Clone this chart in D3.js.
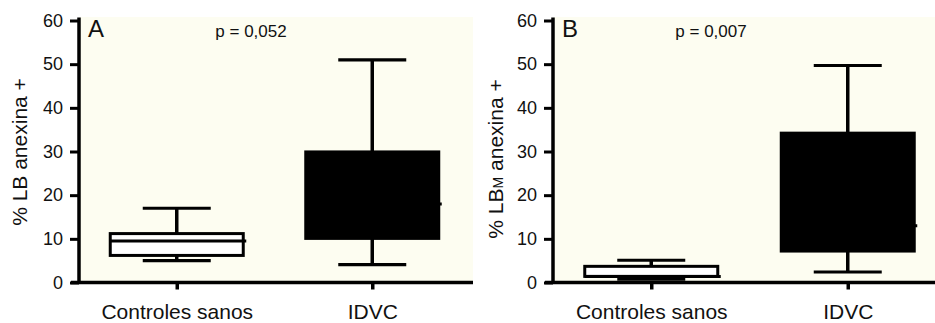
<!DOCTYPE html>
<html>
<head>
<meta charset="utf-8">
<script src="https://cdn.jsdelivr.net/npm/d3@7"></script>
<style>
  body { margin: 0; background: #fff; }
  svg { display: block; font-family: "Liberation Sans", Arial, sans-serif; }
</style>
</head>
<body>
<div id="chart"></div>
<script>
// Data
const categories = ["Controles sanos", "IDVC"];
const panelLetters = ["A", "B"];
const pLabels = ["p = 0,052", "p = 0,007"];
const yTicks = [0, 10, 20, 30, 40, 50, 60];

// box stats per panel: [Controles sanos, IDVC]
const lowA = [5.0, 4.1];
const q1A = [6.2, 10.1];
const medA = [9.5, 18.0];
const q3A = [11.2, 29.9];
const highA = [17.0, 51.0];

const lowB = [0.75, 2.4];
const q1B = [1.4, 7.2];
const medB = [1.4, 13.0];
const q3B = [3.7, 34.2];
const highB = [5.1, 49.7];

const boxFills = ["#fff", "#000"];

const W = 935, H = 323;
const svg = d3.select("#chart").append("svg")
    .attr("width", W)
    .attr("height", H);

// panel layout
const panels = [
    { letter: panelLetters[0], p: pLabels[0], axisX: 79, right: 470, end: 473,
      low: lowA, q1: q1A, med: medA, q3: q3A, high: highA },
    { letter: panelLetters[1], p: pLabels[1], axisX: 553, right: 946, end: 935,
      low: lowB, q1: q1B, med: medB, q3: q3B, high: highB }
];

const y = d3.scaleLinear().domain([0, 60]).range([282.5, 20.5]);

panels.forEach((pn, pi) => {
    const g = svg.append("g");

    const x = d3.scalePoint()
        .domain(categories)
        .range([pn.axisX, pn.right])
        .padding(0.5);

    // cream plot background
    g.append("rect")
        .attr("x", pn.axisX)
        .attr("y", 17)
        .attr("width", pn.end - pn.axisX)
        .attr("height", y(0) - 17)
        .attr("fill", "#fdfdf1");

    const boxW = 133, capW = 68;
    const stats = categories.map((c, i) => ({
        cat: c, low: pn.low[i], q1: pn.q1[i], med: pn.med[i], q3: pn.q3[i], high: pn.high[i], fill: boxFills[i]
    }));

    const boxes = g.selectAll(".box")
        .data(stats)
        .enter()
        .append("g")
        .attr("class", "box");

    // whisker stems
    boxes.append("line")
        .attr("x1", d => x(d.cat)).attr("x2", d => x(d.cat))
        .attr("y1", d => y(d.high)).attr("y2", d => y(d.q3))
        .attr("stroke", "#000").attr("stroke-width", 3.5);
    boxes.append("line")
        .attr("x1", d => x(d.cat)).attr("x2", d => x(d.cat))
        .attr("y1", d => y(d.q1)).attr("y2", d => y(d.low))
        .attr("stroke", "#000").attr("stroke-width", 3.5);

    // whisker caps
    boxes.selectAll(".cap")
        .data(d => [{ cat: d.cat, v: d.high }, { cat: d.cat, v: d.low }])
        .enter()
        .append("line")
        .attr("class", "cap")
        .attr("x1", d => x(d.cat) - capW / 2)
        .attr("x2", d => x(d.cat) + capW / 2)
        .attr("y1", d => y(d.v)).attr("y2", d => y(d.v))
        .attr("stroke", "#000").attr("stroke-width", 3.2);

    // box
    boxes.append("rect")
        .attr("x", d => x(d.cat) - boxW / 2)
        .attr("y", d => y(d.q3))
        .attr("width", boxW)
        .attr("height", d => y(d.q1) - y(d.q3))
        .attr("fill", d => d.fill)
        .attr("stroke", "#000")
        .attr("stroke-width", 3);

    // median (pokes out slightly at the right)
    boxes.append("line")
        .attr("x1", d => x(d.cat) - boxW / 2)
        .attr("x2", d => x(d.cat) + boxW / 2 + 3)
        .attr("y1", d => y(d.med)).attr("y2", d => y(d.med))
        .attr("stroke", "#000").attr("stroke-width", 3);

    // y axis
    const yAxis = g.append("g")
        .attr("transform", `translate(${pn.axisX},0)`)
        .call(d3.axisLeft(y).tickValues(yTicks).tickSize(9).tickSizeOuter(0).tickPadding(7));
    yAxis.select(".domain").attr("stroke-width", 3.5).attr("d", `M0,${y(60) - 3}V${y(0)}`);
    yAxis.selectAll(".tick line").attr("stroke-width", 3);
    yAxis.selectAll(".tick text")
        .attr("font-size", 18)
        .attr("font-family", "Liberation Sans, Arial, sans-serif")
        .attr("fill", "#111");

    // x axis
    g.append("line")
        .attr("x1", pn.axisX - 8).attr("x2", pn.end)
        .attr("y1", y(0)).attr("y2", y(0))
        .attr("stroke", "#000").attr("stroke-width", 3.5);
    const xAxis = g.append("g")
        .attr("transform", `translate(0,${y(0)})`)
        .call(d3.axisBottom(x).tickSize(7).tickSizeOuter(0).tickPadding(15));
    xAxis.select(".domain").remove();
    xAxis.selectAll(".tick line").attr("stroke-width", 3.5);
    xAxis.selectAll(".tick text")
        .attr("font-size", 21)
        .attr("font-family", "Liberation Sans, Arial, sans-serif")
        .attr("fill", "#111");

    // panel letter and p value
    g.append("text")
        .attr("x", pn.axisX + 9)
        .attr("y", 36.5)
        .attr("font-size", 24)
        .attr("fill", "#111")
        .text(pn.letter);
    g.append("text")
        .attr("x", pn.axisX + (pi === 0 ? 172 : 158))
        .attr("y", 37)
        .attr("text-anchor", "middle")
        .attr("font-size", 17)
        .attr("fill", "#111")
        .text(pn.p);

    // y axis title
    const yt = g.append("text")
        .attr("transform", pi === 0 ? "translate(27,152) rotate(-90)" : "translate(503,159) rotate(-90)")
        .attr("text-anchor", "middle")
        .attr("font-size", 21)
        .attr("fill", "#111");
    if (pi === 0) {
        yt.text("% LB anexina +");
    } else {
        yt.append("tspan").text("% LB");
        yt.append("tspan").attr("font-size", 14).text("M");
        yt.append("tspan").text(" anexina +");
    }
});
</script>
</body>
</html>
